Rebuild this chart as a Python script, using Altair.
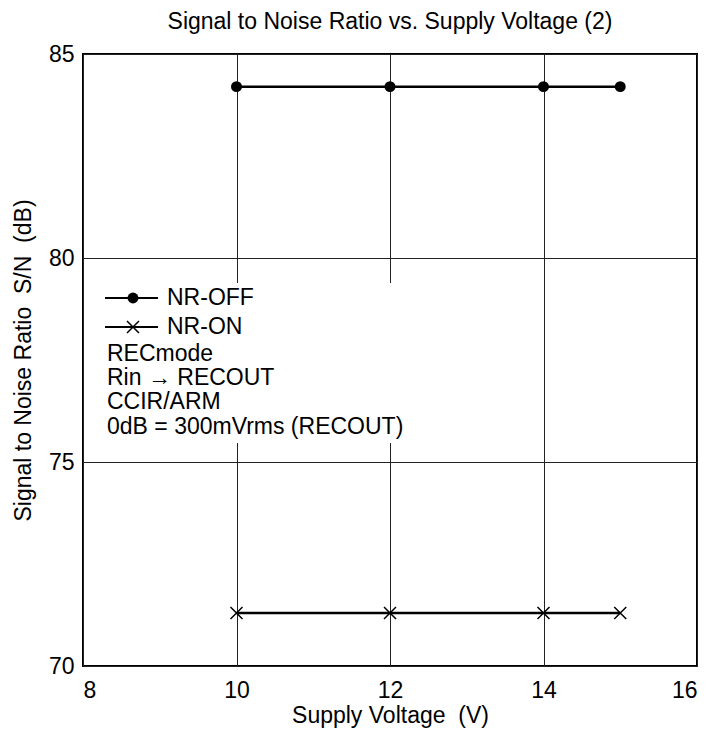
import altair as alt
import pandas as pd

# ---- data ----
voltage = [10, 12, 14, 15]
nr_off = [84.2, 84.2, 84.2, 84.2]
nr_on = [71.3, 71.3, 71.3, 71.3]
series_names = ["NR-OFF", "NR-ON"]
legend_notes = ["RECmode", "Rin \u2192 RECOUT", "CCIR/ARM", "0dB = 300mVrms (RECOUT)"]
x_ticks = [8, 10, 12, 14, 16]
y_ticks = [70, 75, 80, 85]

FONT = "Liberation Sans"
FS = 23

df_off = pd.DataFrame({"v": voltage, "sn": nr_off})
df_on = pd.DataFrame({"v": voltage, "sn": nr_on})
one = pd.DataFrame({"k": [0]})

xenc = alt.X("v:Q", scale=alt.Scale(domain=[8, 16], nice=False, zero=False),
             axis=alt.Axis(values=x_ticks, title="Supply Voltage \u00a0(V)", grid=True,
                           gridColor="#222", gridWidth=1, ticks=False, domain=False,
                           labelFont=FONT, labelFontSize=FS, labelColor="black", labelPadding=13,
                           titleFont=FONT, titleFontSize=FS, titleFontWeight="normal",
                           titleColor="black", titlePadding=2, format="d"))
yenc = alt.Y("sn:Q", scale=alt.Scale(domain=[70, 85], nice=False, zero=False),
             axis=alt.Axis(values=y_ticks, title="Signal to Noise Ratio \u00a0S/N \u00a0(dB)",
                           grid=True, gridColor="#222", gridWidth=1, ticks=False, domain=False,
                           labelFont=FONT, labelFontSize=FS, labelColor="black", labelPadding=9,
                           titleFont=FONT, titleFontSize=FS, titleFontWeight="normal",
                           titleColor="black", titlePadding=13, format="d"))

CROSS = "M-1,-1L1,1M-1,1L1,-1"

line_off = alt.Chart(df_off).mark_line(color="black", strokeWidth=2.5).encode(x=xenc, y=yenc)
pts_off = alt.Chart(df_off).mark_point(shape="circle", filled=True, color="black", size=120, opacity=1).encode(x="v:Q", y="sn:Q")
line_on = alt.Chart(df_on).mark_line(color="black", strokeWidth=2.5).encode(x="v:Q", y="sn:Q")
pts_on = alt.Chart(df_on).mark_point(shape=CROSS, filled=False, color="black", strokeWidth=1.5, size=144, opacity=1).encode(x="v:Q", y="sn:Q")

# white legend box hiding the grid
box = alt.Chart(one).mark_rect(color="white").encode(
    x=alt.value(2), x2=alt.value(342), y=alt.value(229), y2=alt.value(389))

layers = [line_off, line_on, pts_off, pts_on, box]

# legend entries
rows_y = [244, 273]
shapes = ["circle", CROSS]
filled = [True, False]
for name, yy, shp, fl in zip(series_names, rows_y, shapes, filled):
    layers.append(alt.Chart(one).mark_rule(color="black", strokeWidth=2).encode(
        x=alt.value(22), x2=alt.value(75), y=alt.value(yy)))
    if fl:
        layers.append(alt.Chart(one).mark_point(shape=shp, filled=True, color="black", size=120, opacity=1).encode(
            x=alt.value(50), y=alt.value(yy)))
    else:
        layers.append(alt.Chart(one).mark_point(shape=shp, filled=False, color="black", strokeWidth=1.5, size=144, opacity=1).encode(
            x=alt.value(50), y=alt.value(yy)))
    layers.append(alt.Chart(one).mark_text(text=name, font=FONT, fontSize=FS, align="left", baseline="middle", color="black").encode(
        x=alt.value(84), y=alt.value(yy)))

notes_y = [300, 324, 348, 373]
for note, yy in zip(legend_notes, notes_y):
    layers.append(alt.Chart(one).mark_text(text=note, font=FONT, fontSize=FS, align="left", baseline="middle", color="black").encode(
        x=alt.value(24), y=alt.value(yy)))

chart = alt.layer(*layers).properties(
    width=614, height=612,
    title=alt.TitleParams(text="Signal to Noise Ratio vs. Supply Voltage (2)", font=FONT, fontSize=FS,
                          fontWeight="normal", color="black", anchor="middle", offset=9),
    autosize=alt.AutoSizeParams(type="none"),
    padding={"left": 75, "top": 46, "right": 7, "bottom": 64},
).configure_view(stroke="black", strokeWidth=2)

chart.save("out.html", embed_options={"renderer": "svg", "actions": False})
